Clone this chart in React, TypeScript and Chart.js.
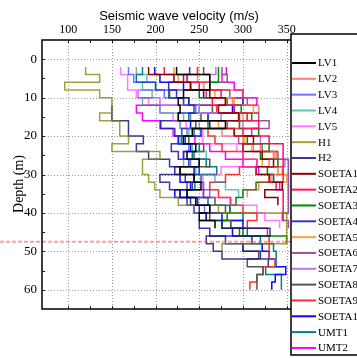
import React, { useEffect, useRef } from 'react';
import { Chart, registerables } from 'chart.js';
Chart.register(...registerables);

// layer tops (m)
const DEPTHS = [2, 4, 6, 8, 10, 12, 14, 16, 18, 20, 22, 24, 26, 28, 30, 32, 34, 36, 38, 40, 42, 44, 46, 48, 50, 52, 54, 56, 58, 60, 62];

const X_TICKS = [100, 150, 200, 250, 300, 350];
const X_MINOR = [125, 175, 225, 275, 325];
const Y_TICKS = [0, 10, 20, 30, 40, 50, 60];
const Y_MINOR = [5, 15, 25, 35, 45, 55];
const REF_DEPTH = 47.5;

const NAMES = ['LV1', 'LV2', 'LV3', 'LV4', 'LV5', 'H1', 'H2', 'SOETA1', 'SOETA2', 'SOETA3', 'SOETA4', 'SOETA5', 'SOETA6', 'SOETA7', 'SOETA8', 'SOETA9', 'SOETA10', 'UMT1', 'UMT2'];
const COLORS = [
  '#000000', 'rgba(255,40,40,0.6)', 'rgba(40,40,255,0.65)', 'rgba(0,150,150,0.6)', 'rgba(255,40,255,0.6)',
  'rgba(128,128,0,0.75)', 'rgba(10,10,120,0.8)', '#8b0000', '#ff1060', '#008a00', 'rgba(20,20,170,0.85)',
  '#ffa040', '#a050a0', '#c070ff', '#555555', '#ff3030', '#0a0aff', '#008080', '#ff00ff'
];

// shear-wave velocity (m/s) for each 2 m layer, starting at DEPTHS[0]
const LV1 = [224, 262, 262, 232, 226, 228, 226, 280, 242, 232, 246, 236, 250, 228, 244, 252, 236, 246, 262, 250, 268];
const LV2 = [248, 248, 262, 300, 288, 318, 305, 296, 276, 300, 320, 338, 330, 345, 332, 318, 305];
const LV3 = [169, 175, 200, 210, 232, 246, 240, 228, 236, 226, 238, 232, 240, 250, 244, 255, 262, 248, 256];
const LV4 = [178, 190, 185, 196, 185, 205, 232, 250, 238, 228, 242, 258, 232, 246, 268, 280, 295];
const LV5 = [160, 168, 168, 178, 192, 205, 220, 235, 254, 254, 293, 300, 316, 275, 254, 254, 254, 285, 316, 325, 342];
const H1 = [120, 136, 96, 136, 150, 150, 136, 159, 159, 169, 150, 205, 185, 185, 192, 199, 205, 226, 272, 350, 350, 350, 350, 276];
const H2 = [null, null, null, null, null, 150, 150, 169, 169, 186, 178, 192, 216, 228, 205, 216, 228, 240, 250, 258, 276, 331, 258, 266, 276, 329];
const SOETA1 = [192, 221, 240, 262, 280, 272, 295, 262, 290, 312, 300, 322, 335, 315, 330, 345, 325, 340];
const SOETA2 = [210, 236, 250, 275, 265, 290, 305, 318, 300, 330, 346, 346, 346, 346, 346, 338, 346, 346, 346, 346];
const SOETA3 = [272, 272, 262, 250, 280, 298, 310, 296, 318, 305, 330, 320, 340, 328, 335, 315, 300, 292, 285, 282, 276, 300, 350];
const SOETA4 = [239, 232, 215, 224, 238, 244, 226, 206, 222, 234, 218, 226, 238, 222, 234, 242, 228, 236, 244, 258, 250, 262, 280, 300, 320];
const SOETA5 = [221, 226, 255, 268, 290, 312, 300, 272, 290, 302, 310, 336, 322, 340, 350, 345];
const SOETA6 = [276, 282, 262, 285, 305, 290, 318, 330, 310, 295, 322, 340, 352, 352, 352, 352, 352, 352, 352, 345, 352];
const SOETA7 = [269, 262, 255, 180, 205, 250, 275, 300, 290, 320, 312, 335, 348, 340, 352, 352];
const SOETA8 = [255, 262, 240, 216, 238, 265, 252, 246, 230, 238, 255, 244, 262, 250, 244, 236, 255, 268, 280, 262, 286, 296, 310, 300, 318, 305, 323, 316, 316];
const SOETA9 = [248, 236, 240, 258, 282, 270, 296, 282, 260, 268, 276, 300, 316, 296, 280, 262, 272, 286, 300, 316, 305, 328, 330, 330, 330, 337, 323, 316, 308];
const SOETA10 = [199, 205, 232, 255, 300, 288, 260, 240, 252, 226, 240, 232, 250, 244, 228, 240, 222, 248, 262, 276, 300, 288, 310, 322, 330, 337, 349, 337, 333];
const UMT1 = [185, 178, 200, 215, 232, 250, 238, 260, 244, 230, 250, 242, 258, 270, 252, 245, 236, 260, 285, 300, 286, 305, 320, 335, 338, 338, 326, 344, 344];
const UMT2 = [281, 276, 290, 300, 316, 178, 185, 205, 220, 245, 262, 280, 300, 318, 335, 342];

const SERIES = [LV1, LV2, LV3, LV4, LV5, H1, H2, SOETA1, SOETA2, SOETA3, SOETA4, SOETA5, SOETA6, SOETA7, SOETA8, SOETA9, SOETA10, UMT1, UMT2];

// step profile: each layer drawn from its top to the next layer top
function profile(vs: (number | null)[]) {
  const pts: { x: number; y: number }[] = [];
  vs.forEach((v, i) => {
    if (v == null) return;
    pts.push({ x: v, y: DEPTHS[i] });
    pts.push({ x: v, y: DEPTHS[i + 1] });
  });
  return pts;
}

const framePlugin = {
  id: 'frame',
  beforeDatasetsDraw(chart: any) {
    const { ctx, chartArea: a, scales } = chart;
    const x = scales.x, y = scales.y;
    ctx.save();
    ctx.strokeStyle = '#9a9a9a';
    ctx.lineWidth = 1;
    ctx.setLineDash([1, 2]);
    X_TICKS.forEach((v) => {
      const px = Math.round(x.getPixelForValue(v)) + 0.5;
      ctx.beginPath(); ctx.moveTo(px, a.top); ctx.lineTo(px, a.bottom); ctx.stroke();
    });
    Y_TICKS.forEach((v) => {
      const py = Math.round(y.getPixelForValue(v)) + 0.5;
      ctx.beginPath(); ctx.moveTo(a.left, py); ctx.lineTo(a.right, py); ctx.stroke();
    });
    ctx.restore();
  },
  afterDatasetsDraw(chart: any) {
    const { ctx, chartArea: a, scales } = chart;
    const x = scales.x, y = scales.y;
    ctx.save();
    // reference depth line
    const ry = y.getPixelForValue(REF_DEPTH);
    ctx.strokeStyle = 'rgba(235,90,90,0.55)';
    ctx.lineWidth = 2;
    ctx.setLineDash([4, 2]);
    ctx.beginPath(); ctx.moveTo(0, ry); ctx.lineTo(a.right, ry); ctx.stroke();
    ctx.setLineDash([]);

    // inward ticks
    ctx.strokeStyle = '#222';
    ctx.lineWidth = 1;
    [...X_TICKS, ...X_MINOR].forEach((v) => {
      const px = Math.round(x.getPixelForValue(v)) + 0.5;
      ctx.beginPath(); ctx.moveTo(px, a.top); ctx.lineTo(px, a.top + 3); ctx.stroke();
      ctx.beginPath(); ctx.moveTo(px, a.bottom); ctx.lineTo(px, a.bottom - 3); ctx.stroke();
    });
    [...Y_TICKS, ...Y_MINOR].forEach((v) => {
      const py = Math.round(y.getPixelForValue(v)) + 0.5;
      ctx.beginPath(); ctx.moveTo(a.left, py); ctx.lineTo(a.left + 3, py); ctx.stroke();
    });

    // frame
    ctx.strokeStyle = '#000';
    ctx.lineWidth = 1.5;
    ctx.beginPath();
    ctx.moveTo(a.right, a.top); ctx.lineTo(a.left, a.top); ctx.lineTo(a.left, a.bottom); ctx.lineTo(a.right, a.bottom);
    ctx.stroke();

    // legend box
    const lx = a.right, ly = 34, lh = 321;
    ctx.fillStyle = '#fff';
    ctx.fillRect(lx, ly, 80, lh);
    ctx.strokeRect(lx, ly, 80, lh);
    ctx.font = '11px "Liberation Serif"';
    ctx.textBaseline = 'middle';
    ctx.textAlign = 'left';
    chart.data.datasets.forEach((ds: any, i: number) => {
      const iy = 63 + i * 15.83;
      ctx.strokeStyle = ds.borderColor;
      ctx.lineWidth = 2;
      ctx.beginPath(); ctx.moveTo(lx + 1, iy); ctx.lineTo(lx + 25, iy); ctx.stroke();
      ctx.fillStyle = '#000';
      ctx.fillText(ds.label, lx + 27, iy + 0.5);
    });

    // axis titles
    ctx.fillStyle = '#000';
    ctx.font = '13px "Liberation Sans"';
    ctx.textAlign = 'center';
    ctx.textBaseline = 'middle';
    ctx.fillText('Seismic wave velocity (m/s)', 179, 16);
    ctx.save();
    ctx.translate(19, 184);
    ctx.rotate(-Math.PI / 2);
    ctx.font = '14px "Liberation Serif"';
    ctx.fillText('Depth (m)', 0, 0);
    ctx.restore();
    ctx.restore();
  },
};

export default function App() {
  const ref = useRef<HTMLCanvasElement | null>(null);
  useEffect(() => {
    if (!ref.current) return;
    const chart = new Chart(ref.current, {
      type: 'scatter',
      data: {
        datasets: NAMES.map((n, i) => ({
          label: n,
          data: profile(SERIES[i]),
          showLine: true,
          borderColor: COLORS[i],
          backgroundColor: COLORS[i],
          borderWidth: 1.5,
          pointRadius: 0,
          fill: false,
        })),
      },
      options: {
        responsive: false,
        animation: false,
        events: [],
        layout: { padding: { left: 0, top: 0, right: 66, bottom: 49 } },
        plugins: { legend: { display: false }, tooltip: { enabled: false } },
        scales: {
          x: {
            type: 'linear',
            position: 'top',
            min: 70,
            max: 355,
            grid: { display: false, drawTicks: false },
            border: { display: false },
            ticks: { padding: 3, color: '#000', font: { family: 'Liberation Serif', size: 12 } },
            afterBuildTicks: (s: any) => { s.ticks = X_TICKS.map((v) => ({ value: v })); },
            afterFit: (s: any) => { s.height = 40; },
          },
          y: {
            type: 'linear',
            reverse: true,
            min: -5,
            max: 65,
            grid: { display: false, drawTicks: false },
            border: { display: false },
            ticks: { padding: 5, color: '#000', font: { family: 'Liberation Serif', size: 13 } },
            afterBuildTicks: (s: any) => { s.ticks = Y_TICKS.map((v) => ({ value: v })); },
            afterFit: (s: any) => { s.width = 42; },
          },
        },
      } as any,
      plugins: [framePlugin],
    });
    return () => chart.destroy();
  }, []);
  return (
    <div style={{ position: 'fixed', left: 0, top: 0, width: 357, height: 358, background: '#fff' }}>
      <canvas ref={ref} width={357} height={358} style={{ display: 'block', width: 357, height: 358 }} />
    </div>
  );
}
